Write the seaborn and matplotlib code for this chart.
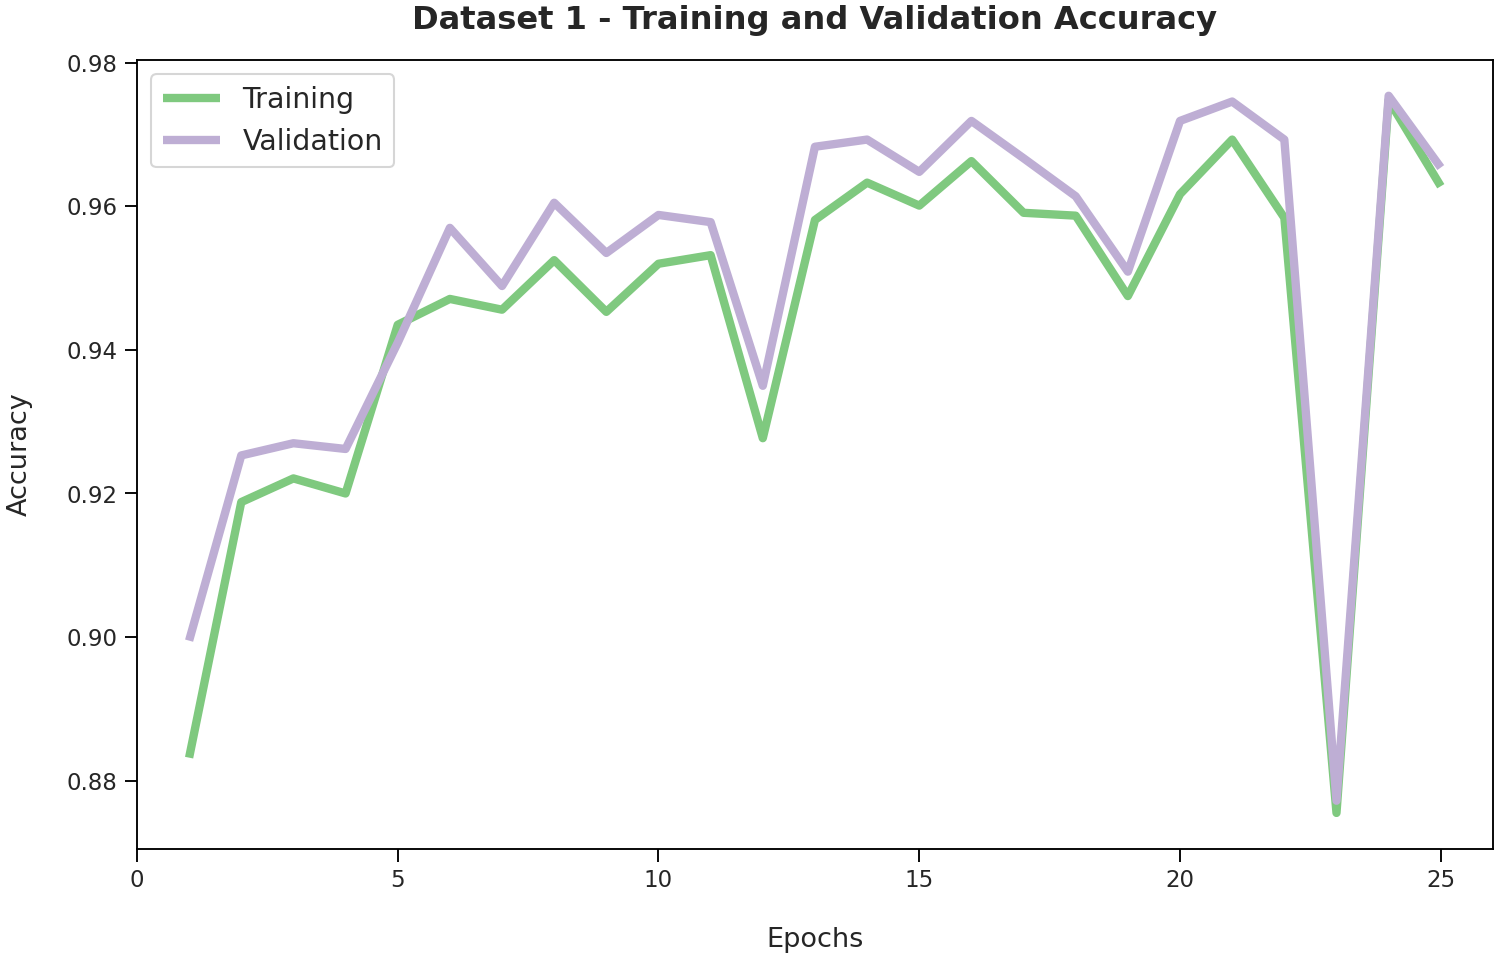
import pandas as pd
import matplotlib.pyplot as plt
import seaborn as sns

# Values
epochs = list(range(1, 26))
train_acc = [0.8832, 0.9188, 0.9221, 0.9200, 0.9435, 0.9471, 0.9456, 0.9525, 0.9453, 0.9520,
             0.9532, 0.9277, 0.9581, 0.9633, 0.9601, 0.9663, 0.9591, 0.9587, 0.9475, 0.9617,
             0.9693, 0.9584, 0.8755, 0.9748, 0.9628]
val_acc = [0.8995, 0.9253, 0.9270, 0.9262, 0.9410, 0.9570, 0.9489, 0.9605, 0.9535, 0.9588,
           0.9578, 0.9350, 0.9683, 0.9693, 0.9648, 0.9719, 0.9667, 0.9614, 0.9509, 0.9719,
           0.9746, 0.9693, 0.8772, 0.9754, 0.9654]
series_names = ["Training", "Validation"]
colors = ["#7fc97f", "#beaed4"]

df = pd.DataFrame({
    "Epochs": epochs * 2,
    "Accuracy": train_acc + val_acc,
    "Set": [series_names[0]] * len(epochs) + [series_names[1]] * len(epochs),
})

sns.set_theme(style="ticks")
plt.rcParams["font.family"] = ["DejaVu Sans"]
plt.rcParams["axes.linewidth"] = 0.9
plt.rcParams["axes.edgecolor"] = "black"
plt.rcParams["xtick.major.width"] = 0.9
plt.rcParams["ytick.major.width"] = 0.9
plt.rcParams["xtick.color"] = "black"
plt.rcParams["ytick.color"] = "black"
plt.rcParams["xtick.labelcolor"] = ".15"
plt.rcParams["ytick.labelcolor"] = ".15"
plt.rcParams["lines.solid_capstyle"] = "butt"

fig, ax = plt.subplots(figsize=(10, 6.387), dpi=150)
fig.subplots_adjust(left=0.0913, right=0.9953, top=0.9374, bottom=0.114)

sns.lineplot(data=df, x="Epochs", y="Accuracy", hue="Set", palette=colors, linewidth=4, ax=ax)

ax.set_xlim(0, 26)
ax.set_xticks([0, 5, 10, 15, 20, 25])
ax.set_yticks([0.88, 0.90, 0.92, 0.94, 0.96, 0.98])
ax.tick_params(labelsize=11, length=6)
ax.set_xlabel("Epochs", fontsize=13, labelpad=17)
ax.set_ylabel("Accuracy", fontsize=13, labelpad=16)
ax.set_title("Dataset 1 - Training and Validation Accuracy", fontsize=15.4, fontweight="bold", pad=15)
ax.legend(title=None, fontsize=13.7, loc="upper left")

fig.savefig("out.png")
